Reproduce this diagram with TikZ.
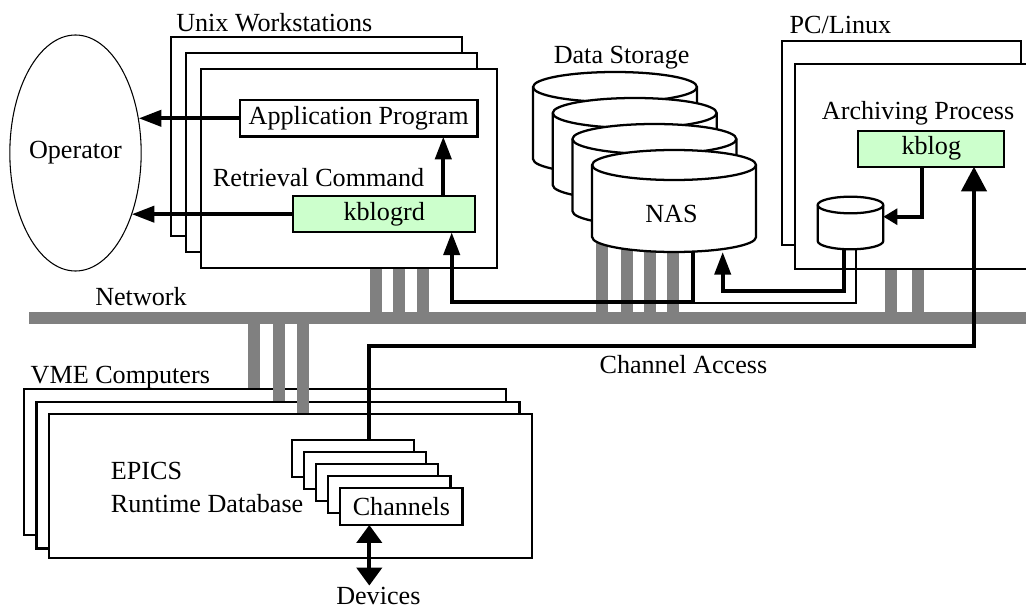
\documentclass[tikz,border=0pt]{standalone}
\usepackage{fontspec}
\setmainfont{Liberation Serif}
\usetikzlibrary{arrows.meta,shapes.geometric}

\definecolor{procgreen}{RGB}{204,255,204}
\definecolor{netgray}{RGB}{128,128,128}

\tikzset{
	hostbox/.style={draw, line width=1.7pt, fill=white, anchor=north west, inner sep=0pt, outer sep=0pt},
	prog/.style={draw, line width=1.7pt, fill=white, inner sep=0pt, outer sep=0pt},
	proc/.style={prog, fill=procgreen},
	lbl/.style={inner sep=0pt, anchor=base west},
	flow/.style={line width=3pt, -{Triangle[length=17pt,width=12pt]}},
	link/.style={line width=3pt},
	thinlink/.style={line width=1.5pt},
	bus/.style={line width=8.8pt, netgray},
	tap/.style={line width=9pt, netgray},
}

\newcommand{\storagedrum}[5]{%
	\draw[line width=1.7pt, fill=white] (#1-#3,#2) -- (#1-#3,#2+#5)
		arc[start angle=180, end angle=0, x radius=#3, y radius=#4]
		-- (#1+#3,#2) arc[start angle=0, end angle=-180, x radius=#3, y radius=#4] -- cycle;
	\draw[line width=1.7pt] (#1-#3,#2) arc[start angle=180, end angle=0, x radius=#3, y radius=#4];
}

\begin{document}
\begin{tikzpicture}[x=0.75pt, y=-0.75pt, font=\fontsize{19.6}{23}\selectfont]
	\useasboundingbox (0,0) rectangle (1026,610);

	\coordinate (net) at (29,318);
	\coordinate (netend) at (1040,318);
	\draw[bus] (net) -- (netend);
	\node[lbl] (netlbl) at (95,305) {Network};

	\node[lbl] (wslbl) at (176,31.7) {Unix Workstations};
	\node[hostbox, minimum width=218.3pt, minimum height=149.3pt] (ws1) at (171,37) {};
	\node[hostbox, minimum width=218.3pt, minimum height=149.3pt] (ws2) at (186,53) {};
	\node[hostbox, minimum width=222pt, minimum height=149.3pt] (ws3) at (201,69) {};
	\foreach \x in {375.7,399,423.3}
		\draw[tap, shorten <=0.85pt] (\x,0 |- ws3.south) -- (\x,0 |- net);

	\node[prog, minimum width=178pt, minimum height=27.5pt] (app) at (358.7,118.3) {Application Program};
	\node[lbl] (rclbl) at (212.7,186.7) {Retrieval Command};
	\node[proc, minimum width=136.3pt, minimum height=27.2pt] (kblogrd) at (384.2,214.2) {kblogrd};

	\node[draw, ellipse, line width=0.8pt, minimum width=96.8pt, minimum height=177pt, inner sep=0pt] (op) at (75.5,153) {Operator};

	\draw[flow] (app.west) -- (app.west -| op.29.4);
	\draw[flow] (kblogrd.west) -- (kblogrd.west -| op.312);
	\draw[flow] (443.3,0 |- kblogrd.north) -- (443.3,0 |- app.south);

	\coordinate (nas) at (674,201);
	\foreach \x in {601.7,626.7,650,673.3}
		\draw[tap] (\x,0 |- nas) -- (\x,0 |- net);
	\node[lbl] (dslbl) at (553.5,64) {Data Storage};
	\foreach \i in {0,...,3}
		{\storagedrum{615+19.7*\i}{87+26*\i}{82}{15}{72}}
	\node[lbl] (naslbl) at (645,222.7) {NAS};

	\node[lbl] (pclbl) at (789.3,33.3) {PC/Linux};
	\node[hostbox, minimum width=179pt, minimum height=153pt] (pc1) at (782.3,41) {};
	\node[hostbox, minimum width=187.5pt, minimum height=154pt] (pc2) at (795,64) {};
	\foreach \x in {890.7,917.7}
		\draw[tap, shorten <=0.85pt] (\x,0 |- pc2.south) -- (\x,0 |- net);
	\node[lbl] (arlbl) at (821.7,119.3) {Archiving Process};
	\node[proc, minimum width=109.5pt, minimum height=27pt] (kblog) at (931.3,148.7) {kblog};
	\storagedrum{850.5}{205}{32.8}{8.3}{36}
	\coordinate (diskE) at (883.3,216.7);
	\coordinate (diskS) at (844,249);
	\coordinate (diskT) at (856,249);
	\coordinate (nasS) at (693.3,251);
	\coordinate (nasIn) at (722.7,252);

	\draw[line width=3pt, -{Triangle[length=10.5pt,width=11.8pt]}] (921.7,0 |- kblog.south) |- (diskE);
	\draw[thinlink] (diskT) |- (nasS |- 0,303);
	\draw[flow] (diskS) |- (nasIn |- 0,291) -- (nasIn);
	\draw[flow] (nasS) |- (451.7,302) -- (451.7,0 |- kblogrd.south);

	\node[lbl] (vmelbl) at (30.4,383.3) {VME Computers};
	\node[hostbox, minimum width=361.5pt, minimum height=109.5pt] (vme1) at (24.3,389) {};
	\node[hostbox, minimum width=362.4pt, minimum height=110pt] (vme2) at (36.4,401.7) {};
	\node[hostbox, minimum width=362.4pt, minimum height=108.2pt] (vme3) at (48.9,414) {};
	\foreach \x/\n in {254.3/vme1,278.6/vme2,302.9/vme3}
		\draw[tap, shorten >=0.85pt] (\x,0 |- net) -- (\x,0 |- \n.north);
	\node[lbl] (epics) at (110.7,479.3) {EPICS};
	\node[lbl] (rtdb) at (110.7,512.7) {Runtime Database};

	\foreach \i in {1,...,4}
		\node[prog, anchor=north west, minimum width=91.7pt, minimum height=27.5pt] (ch\i) at (279.55+12.15*\i, 427.9+12.1*\i) {};
	\node[prog, anchor=north west, minimum width=91.7pt, minimum height=27.5pt] (ch5) at (340.3,488.3) {Channels};

	\draw[line width=3pt, -{Triangle[length=18.5pt,width=18.8pt]}] (369.3,0 |- ch1.north) |- (974,346) -- (974,0 |- kblog.south);
	\node[lbl] (calbl) at (599.3,373.3) {Channel Access};

	\node[lbl] (dev) at (336,604.5) {Devices};
	\draw[line width=3pt, {Triangle[length=13.5pt,width=18.8pt]}-{Triangle[length=13.5pt,width=18.8pt]}, shorten >=1pt] (369.3,0 |- ch5.south) -- (369.3,0 |- dev.north);
\end{tikzpicture}
\end{document}
